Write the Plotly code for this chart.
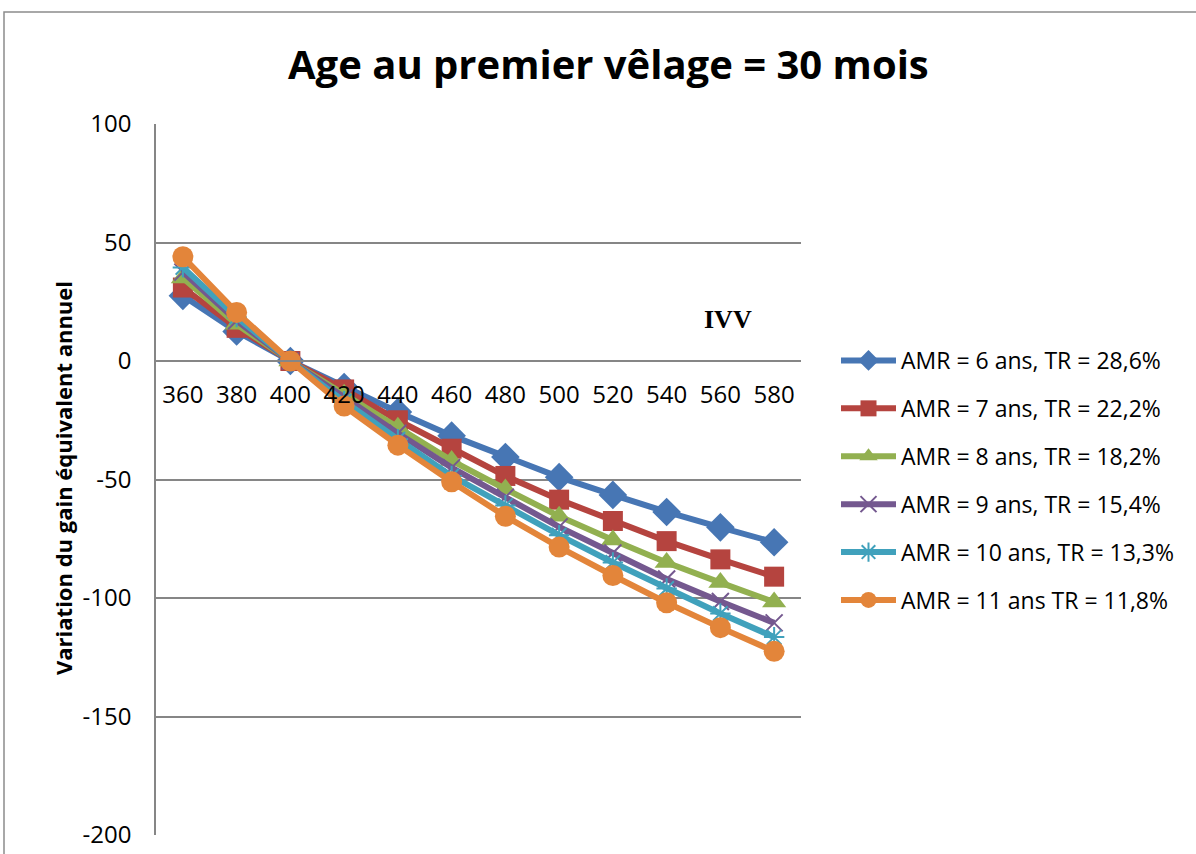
import plotly.graph_objects as go

ivv = ["360", "380", "400", "420", "440", "460", "480", "500", "520", "540", "560", "580"]

y_ticks = [100, 50, 0, -50, -100, -150, -200]
y_ticktext = ["100", "50", "0", "-50", "-100", "-150", "-200"]

names = [
    "AMR = 6 ans, TR = 28,6%",
    "AMR = 7 ans, TR = 22,2%",
    "AMR = 8 ans, TR = 18,2%",
    "AMR = 9 ans, TR = 15,4%",
    "AMR = 10 ans, TR = 13,3%",
    "AMR = 11 ans TR = 11,8%",
]

amr6 = [27.5, 12.5, 0, -11, -21.5, -31.5, -40.5, -49, -56.5, -63.7, -70.2, -76.5]
amr7 = [31, 14, 0, -12, -25, -37, -48.5, -58.5, -67.5, -76, -83.7, -91]
amr8 = [35, 15.5, 0, -14, -28, -42, -54, -65.5, -75.5, -85, -93.5, -101.7]
amr9 = [37.5, 17, 0, -15.5, -30.5, -45, -57.5, -70, -81, -92, -101.5, -110.5]
amr10 = [39.5, 18.5, 0, -17, -33, -48.5, -61, -73.5, -85, -96, -106.5, -116.5]
amr11 = [44, 20.5, 0, -19, -35.5, -51, -65.5, -78.5, -90.5, -102, -112.5, -122.5]

series = [amr6, amr7, amr8, amr9, amr10, amr11]
colors = ["#4776B4", "#B5443F", "#92B050", "#74588F", "#40A1BC", "#E3853A"]
symbols = ["diamond", "square", "triangle-up", "x-thin-open", "asterisk-open", "circle"]
sizes = [22, 20, 21, 17, 17, 21]

W, H = 1196, 854
L, R, T, B = 156, 801, 124, 835

fig = go.Figure()
for i, (vals, nm) in enumerate(zip(series, names)):
    mk = dict(symbol=symbols[i], size=sizes[i], color=colors[i])
    if symbols[i].endswith("open"):
        mk["line"] = dict(color=colors[i], width=2)
    else:
        mk["line"] = dict(width=0)
    fig.add_trace(go.Scatter(
        x=ivv, y=vals, name=nm, mode="lines+markers",
        line=dict(color=colors[i], width=6),
        marker=mk, legendgroup=str(i),
    ))

def px(x):
    return (x - L) / (R - L)

def py(y):
    return (B - y) / (B - T)

fig.update_layout(
    width=W, height=H,
    margin=dict(l=L, r=W - R, t=T, b=H - B, autoexpand=False),
    paper_bgcolor="white", plot_bgcolor="white",
    font=dict(family="Open Sans", size=23, color="black"),
    showlegend=True,
    legend=dict(
        x=px(836), y=py(339), xanchor="left", yanchor="top",
        font=dict(family="Open Sans", size=23, color="black"),
        itemwidth=55, tracegroupgap=15, bgcolor="rgba(0,0,0,0)",
    ),
    xaxis=dict(
        type="category", anchor="free", position=py(361),
        showgrid=False, showline=True, linecolor="#868686", linewidth=1.5,
        ticks="", tickfont=dict(family="Open Sans", size=24),
        ticklabelstandoff=12, range=[-0.5, 11.5], zeroline=False,
    ),
    yaxis=dict(
        range=[-200, 100], tickvals=y_ticks, ticktext=y_ticktext,
        showgrid=True, gridcolor="#868686", gridwidth=1.5,
        showline=True, linecolor="#868686", linewidth=1.5,
        zeroline=False, ticks="", tickfont=dict(family="Open Sans", size=24),
        ticklabelstandoff=18,
    ),
    shapes=[dict(
        type="rect", xref="paper", yref="paper",
        x0=px(4), x1=px(1210), y0=py(870), y1=py(12),
        line=dict(color="#8C8C8C", width=1.5), fillcolor="rgba(0,0,0,0)", layer="below",
    )],
    annotations=[
        dict(text="<b>Age au premier vêlage = 30 mois</b>", xref="paper", yref="paper",
             x=px(608), y=py(63), xanchor="center", yanchor="middle", showarrow=False,
             font=dict(family="Open Sans", size=40, color="black")),
        dict(text="<b>Variation du gain équivalent annuel</b>", xref="paper", yref="paper",
             x=px(63), y=py(478), xanchor="center", yanchor="middle", showarrow=False,
             textangle=-90, font=dict(family="Open Sans", size=22, color="black")),
        dict(text="<b>IVV</b>", xref="paper", yref="paper",
             x=px(728), y=py(319), xanchor="center", yanchor="middle", showarrow=False,
             font=dict(family="Liberation Serif", size=26, color="black")),
    ],
)

fig.write_html("out.html", config={"displayModeBar": False},
               post_script="document.body.style.margin='0px';")
